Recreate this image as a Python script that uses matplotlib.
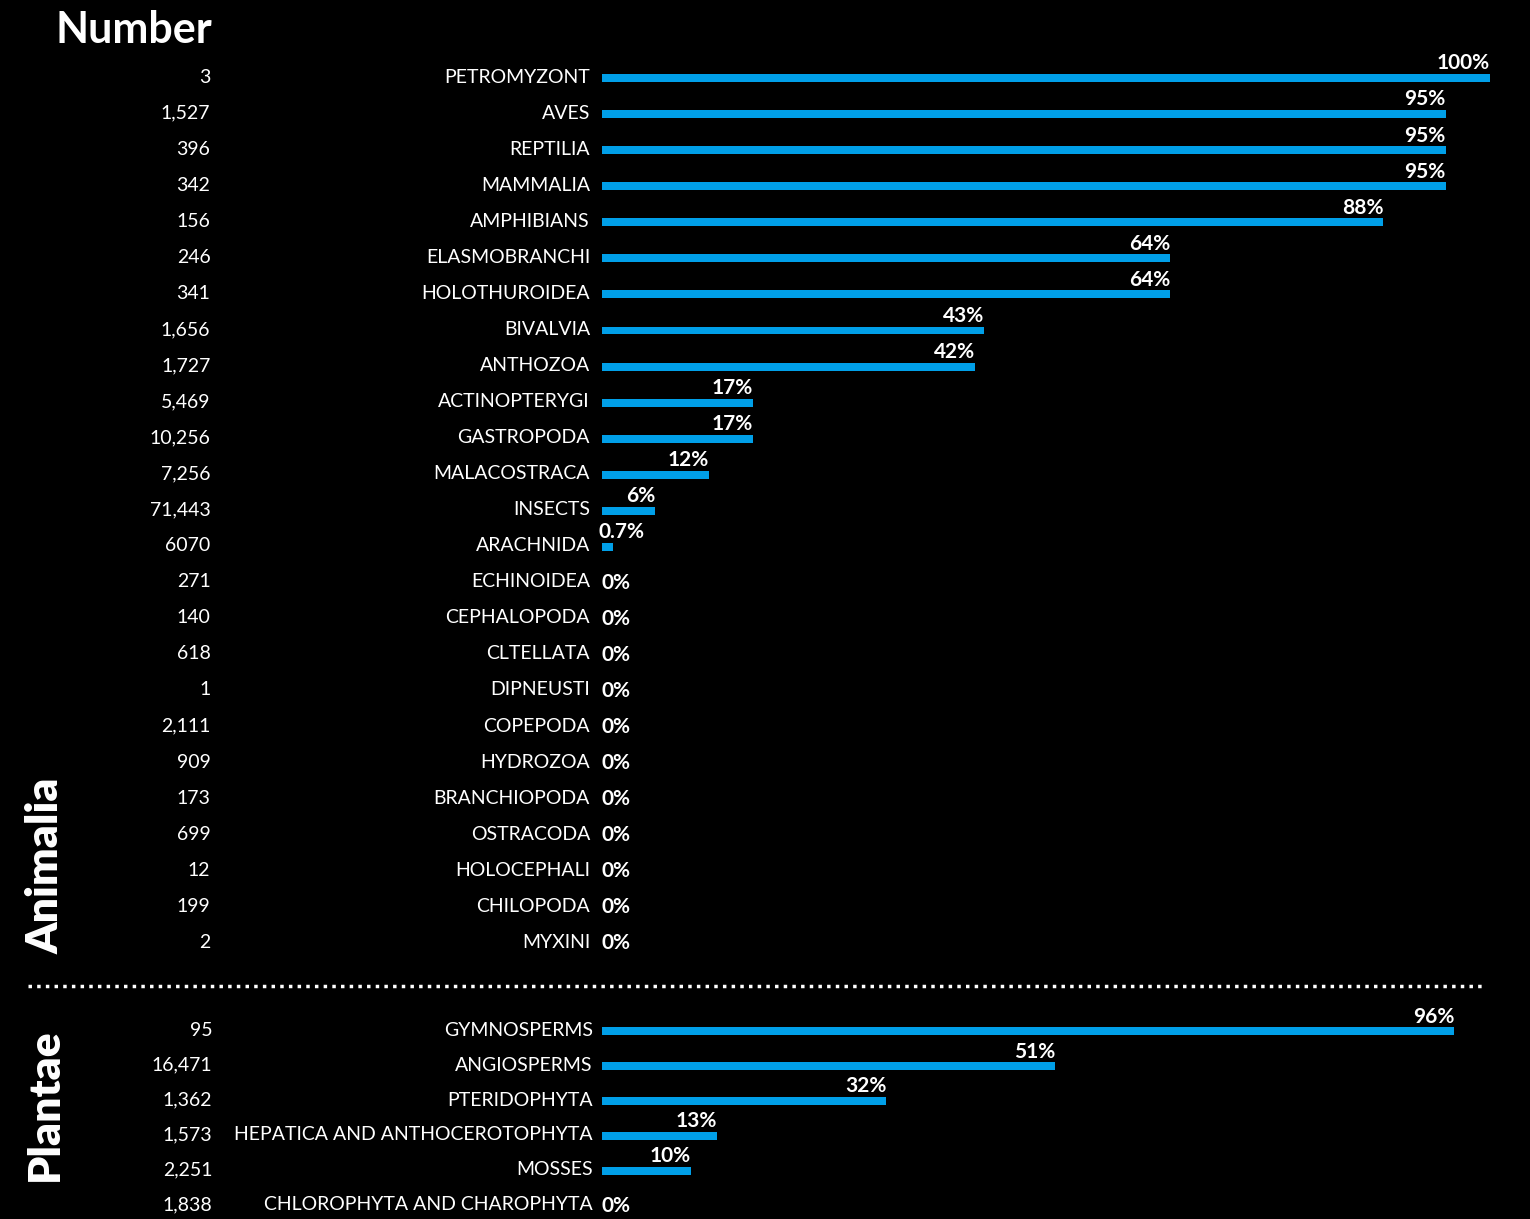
import matplotlib.pyplot as plt

plt.rcParams['font.family'] = ['Lato', 'DejaVu Sans']

# Data
animalia_names = ['PETROMYZONT', 'AVES', 'REPTILIA', 'MAMMALIA', 'AMPHIBIANS', 'ELASMOBRANCHI',
                  'HOLOTHUROIDEA', 'BIVALVIA', 'ANTHOZOA', 'ACTINOPTERYGI', 'GASTROPODA',
                  'MALACOSTRACA', 'INSECTS', 'ARACHNIDA', 'ECHINOIDEA', 'CEPHALOPODA',
                  'CLTELLATA', 'DIPNEUSTI', 'COPEPODA', 'HYDROZOA', 'BRANCHIOPODA',
                  'OSTRACODA', 'HOLOCEPHALI', 'CHILOPODA', 'MYXINI']
animalia_numbers = ['3', '1,527', '396', '342', '156', '246', '341', '1,656', '1,727', '5,469',
                    '10,256', '7,256', '71,443', '6070', '271', '140', '618', '1', '2,111',
                    '909', '173', '699', '12', '199', '2']
animalia_pct = [100, 95, 95, 95, 88, 64, 64, 43, 42, 17, 17, 12, 6, 0.7,
                0, 0, 0, 0, 0, 0, 0, 0, 0, 0, 0]

plantae_names = ['GYMNOSPERMS', 'ANGIOSPERMS', 'PTERIDOPHYTA', 'HEPATICA AND ANTHOCEROTOPHYTA',
                 'MOSSES', 'CHLOROPHYTA AND CHAROPHYTA']
plantae_numbers = ['95', '16,471', '1,362', '1,573', '2,251', '1,838']
plantae_pct = [96, 51, 32, 13, 10, 0]

bar_color = '#009FE8'
gap = 2.44  # extra rows between the two groups

fig = plt.figure(figsize=(15.3, 12.19), dpi=100, facecolor='black')
ax = fig.add_axes([602 / 1530, 0, 888 / 1530, 1])
ax.set_facecolor('black')
ax.set_xlim(0, 100)
ax.set_ylim(31.72, -2.14)
ax.axis('off')

tr = ax.get_yaxis_transform()  # x in axes coords, y in data

rows_a = [1.0015 * i for i in range(len(animalia_names))]
rows_p = [rows_a[-1] + gap + 0.97 * j for j in range(len(plantae_names))]


def draw_group(rows, names, numbers, pct, num_x, lab_x):
    for y, name, num, v in zip(rows, names, numbers, pct):
        ax.text(num_x, y, num, transform=tr, ha='right', va='center', color='white', fontsize=14)
        ax.text(lab_x, y, name, transform=tr, ha='right', va='center', color='white', fontsize=14)
        if v > 0:
            w = max(v, 1.2)
            ax.barh(y + 0.03, w, height=0.22, color=bar_color, left=0)
            label = f'{v:g}%'
            if v >= 5:
                ax.text(w, y - 0.1, label, ha='right', va='bottom', color='white',
                        fontsize=15, fontweight='bold')
            else:
                ax.text(-0.4, y - 0.1, label, ha='left', va='bottom', color='white',
                        fontsize=15, fontweight='bold')
        else:
            ax.text(0, y + 0.02, '0%', ha='left', va='center', color='white',
                    fontsize=15, fontweight='bold')


draw_group(rows_a, animalia_names, animalia_numbers, animalia_pct, -0.441, -0.0135)
draw_group(rows_p, plantae_names, plantae_numbers, plantae_pct, -0.439, -0.0105)

# header and group titles
ax.text(-0.439, -1.3, 'Number', transform=tr, ha='right', va='center', color='white',
        fontsize=31, fontweight='bold')
ax.text(-0.627, 21.9, 'Animalia', transform=tr, ha='center', va='center', rotation=90,
        color='white', fontsize=32, fontweight='heavy')
ax.text(-0.627, 28.55, 'Plantae', transform=tr, ha='center', va='center', rotation=90,
        color='white', fontsize=32, fontweight='heavy')

# dotted separator
sep_y = (rows_a[-1] + rows_p[0]) / 2
ax.plot([-0.646, 0.993], [sep_y, sep_y], transform=tr, color='white', linestyle=(0, (1, 1.5)),
        linewidth=2.5, clip_on=False)

fig.savefig('out.png', dpi=100, facecolor='black')
